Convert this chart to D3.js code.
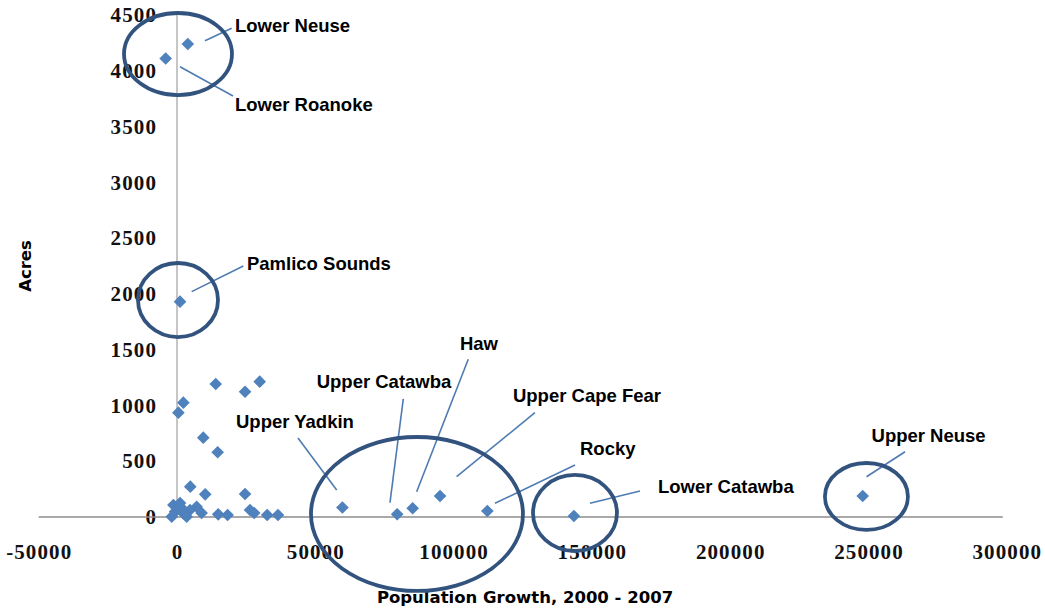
<!DOCTYPE html>
<html>
<head>
<meta charset="utf-8">
<script src="https://cdn.jsdelivr.net/npm/d3@7"></script>
<style>
body { margin: 0; background: #fff; }
svg { display: block; }
</style>
</head>
<body>
<svg id="chart" width="1045" height="609"></svg>
<script>
// scatter points: population growth vs acres
const popGrowth = [3900, -4100, 1100, 59800, 79600, 85200, 95100, 112200, 143500, 247900,
    14000, 24600, 29900, 2300, 500, 9500, 14700, 4800, 10200, 24600, 26400, 27900,
    32600, 36500, 18300, 14900, 8900, 7100, -1300, 1100, -700, 2300, 4700, 3500, -1900, 1700];
const acres = [4240, 4110, 1930, 85, 25, 78, 188, 54, 9, 188,
    1192, 1123, 1213, 1025, 935, 711, 580, 272, 203, 206, 63, 36,
    18, 18, 18, 24, 36, 92, 108, 125, 48, 33, 63, 3, 3, 81];

const xTicks = [-50000, 0, 50000, 100000, 150000, 200000, 250000, 300000];
const yTicks = [0, 500, 1000, 1500, 2000, 2500, 3000, 3500, 4000, 4500];

// callouts (data units)
const basinNames = ["Lower Neuse", "Lower Roanoke", "Pamlico Sounds", "Upper Yadkin", "Upper Catawba",
    "Haw", "Upper Cape Fear", "Rocky", "Lower Catawba", "Upper Neuse"];
const labelX = [20970, 20970, 25300, 21330, 50500, 102300, 121460, 145700, 173900, 251100];
const labelY = [4348, 3639, 2214, 798, 1156, 1497, 1034, 556, 215, 675];
const lineX1 = [19770, 20240, 23970, 43740, 81810, 105300, 129400, 143900, 167400, 263200];
const lineY1 = [4381, 3774, 2250, 708, 1058, 1414, 935, 466, 233, 585];
const lineX2 = [10120, 1085, 5310, 57730, 77000, 86650, 101100, 114950, 149300, 249300];
const lineY2 = [4270, 4036, 2020, 242, 128, 227, 361, 123, 123, 361];

// circled groups (data units)
const ringX = [360, 360, 86760, 143880, 249250];
const ringY = [4150, 1945, 27, 36, 184];
const ringRx = [19520, 14460, 38320, 15180, 15000];
const ringRy = [368, 332, 690, 341, 300];

const svg = d3.select("svg#chart");

let xScale = d3.scaleLinear()
    .domain([-50000, 300000])
    .range([38.7, 1006.8]);

let yScale = d3.scaleLinear()
    .domain([0, 4500])
    .range([517, 15]);

const tickFont = "'Liberation Serif', serif";
const labelFont = "'Liberation Sans', Arial, sans-serif";
const titleFont = "'DejaVu Sans', sans-serif";

// plain hyphen for negatives, like the original
let plain = d => String(d);

// x axis
let xAxis = d3.axisBottom(xScale)
    .tickValues(xTicks)
    .tickSize(0)
    .tickPadding(27)
    .tickFormat(plain);

let gx = svg.append("g")
    .attr("transform", "translate(0," + yScale(0) + ")")
    .call(xAxis);
gx.select(".domain").remove();
gx.selectAll("text")
    .style("font-family", tickFont)
    .style("font-weight", "bold")
    .style("font-size", "21px")
    .style("letter-spacing", "1.1px")
    .attr("fill", "#111");

// y axis
let yAxis = d3.axisLeft(yScale)
    .tickValues(yTicks)
    .tickSize(0)
    .tickPadding(20)
    .tickFormat(plain);

let gy = svg.append("g")
    .attr("transform", "translate(" + xScale(0) + ",0)")
    .call(yAxis);
gy.select(".domain").remove();
gy.selectAll("text")
    .style("font-family", tickFont)
    .style("font-weight", "bold")
    .style("font-size", "21px")
    .style("letter-spacing", "1.1px")
    .attr("fill", "#111");

// axis lines
svg.append("line")
    .attr("x1", xScale(-50000)).attr("x2", xScale(300000) - 4)
    .attr("y1", yScale(0)).attr("y2", yScale(0))
    .attr("stroke", "#8c8c8c")
    .attr("stroke-width", 1.6);

svg.append("line")
    .attr("x1", xScale(0)).attr("x2", xScale(0))
    .attr("y1", yScale(4500)).attr("y2", yScale(0))
    .attr("stroke", "#8c8c8c")
    .attr("stroke-width", 1);

// axis titles
svg.append("text")
    .attr("x", 525)
    .attr("y", 603)
    .attr("text-anchor", "middle")
    .style("font-family", titleFont)
    .style("font-weight", "bold")
    .style("font-size", "16.5px")
    .text("Population Growth, 2000 - 2007");

svg.append("text")
    .attr("transform", "translate(31,266) rotate(-90)")
    .attr("text-anchor", "middle")
    .style("font-family", titleFont)
    .style("font-weight", "bold")
    .style("font-size", "16.5px")
    .text("Acres");

// diamonds
let points = popGrowth.map((v, i) => ({ x: v, y: acres[i] }));
let diamond = d3.symbol().type(d3.symbolSquare).size(80);

svg.append("g")
    .selectAll("path")
    .data(points)
    .enter()
    .append("path")
    .attr("d", diamond)
    .attr("transform", d => "translate(" + xScale(d.x) + "," + yScale(d.y) + ") rotate(45)")
    .attr("fill", "#4f81bd");

// leader lines
svg.append("g")
    .selectAll("line")
    .data(basinNames)
    .enter()
    .append("line")
    .attr("x1", (d, i) => xScale(lineX1[i]))
    .attr("y1", (d, i) => yScale(lineY1[i]))
    .attr("x2", (d, i) => xScale(lineX2[i]))
    .attr("y2", (d, i) => yScale(lineY2[i]))
    .attr("stroke", "#4f7bb3")
    .attr("stroke-width", 1.6);

// ellipses
svg.append("g")
    .selectAll("ellipse")
    .data(ringX)
    .enter()
    .append("ellipse")
    .attr("cx", d => xScale(d))
    .attr("cy", (d, i) => yScale(ringY[i]))
    .attr("rx", (d, i) => xScale(ringRx[i]) - xScale(0))
    .attr("ry", (d, i) => yScale(0) - yScale(ringRy[i]))
    .attr("fill", "none")
    .attr("stroke", "#33537f")
    .attr("stroke-width", 3.8);

// labels
svg.append("g")
    .selectAll("text")
    .data(basinNames)
    .enter()
    .append("text")
    .attr("x", (d, i) => xScale(labelX[i]))
    .attr("y", (d, i) => yScale(labelY[i]))
    .style("font-family", labelFont)
    .style("font-weight", "bold")
    .style("font-size", "18.5px")
    .attr("fill", "#000")
    .text(d => d);
</script>
</body>
</html>
